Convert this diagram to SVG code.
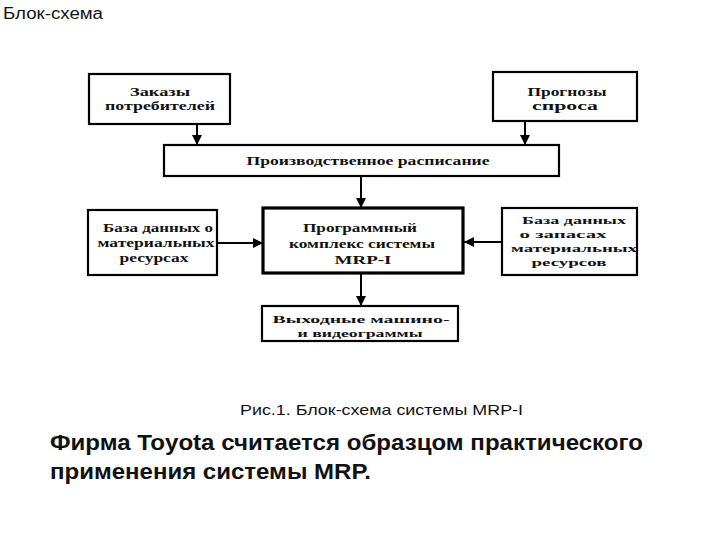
<svg xmlns="http://www.w3.org/2000/svg" width="720" height="540" viewBox="0 0 720 540">
<style>
.box{fill:#fff;stroke:#000;stroke-width:2.2}
.thick{stroke-width:3.2}
.nt{font-family:"Liberation Serif","DejaVu Serif",serif;font-weight:bold;font-size:13px;text-anchor:middle;fill:#111}
.sm{font-size:11px}
.cn{stroke:#000;stroke-width:2;fill:none}
</style>
<defs>
<marker id="ah" viewBox="0 0 10 10" refX="10" refY="5" markerWidth="5" markerHeight="5" orient="auto" markerUnits="strokeWidth">
<path d="M0,0 L10,5 L0,10 z" fill="#000"/>
</marker>
</defs>
<rect width="720" height="540" fill="#fff"/>
<text x="3" y="19" font-family="'Liberation Sans','DejaVu Sans',sans-serif" font-size="16" fill="#111" textLength="100" lengthAdjust="spacingAndGlyphs">Блок-схема</text>

<g id="connectors">
<line class="cn" x1="197" y1="125" x2="197" y2="145" marker-end="url(#ah)"/>
<line class="cn" x1="525" y1="122" x2="525" y2="145" marker-end="url(#ah)"/>
<line class="cn" x1="361" y1="177" x2="361" y2="208" marker-end="url(#ah)"/>
<line class="cn" x1="218" y1="243" x2="263" y2="243" marker-end="url(#ah)"/>
<line class="cn" x1="501" y1="242" x2="464" y2="242" marker-end="url(#ah)"/>
<line class="cn" x1="361" y1="274" x2="361" y2="306" marker-end="url(#ah)"/>
</g>

<g id="n-zakazy">
<rect class="box" x="89" y="74" width="141" height="50"/>
<text class="nt" x="160" y="96" textLength="60" lengthAdjust="spacingAndGlyphs">Заказы</text>
<text class="nt" x="160" y="110" textLength="110" lengthAdjust="spacingAndGlyphs">потребителей</text>
</g>
<g id="n-prognozy">
<rect class="box" x="493" y="72" width="144" height="49"/>
<text class="nt" x="567" y="96" textLength="79" lengthAdjust="spacingAndGlyphs">Прогнозы</text>
<text class="nt" x="565" y="110" textLength="66" lengthAdjust="spacingAndGlyphs">спроса</text>
</g>
<g id="n-raspisanie">
<rect class="box" x="164" y="145" width="395" height="31"/>
<text class="nt" x="368" y="165" textLength="243" lengthAdjust="spacingAndGlyphs">Производственное расписание</text>
</g>
<g id="n-bd-mat">
<rect class="box" x="88" y="210" width="129" height="65"/>
<text class="nt" x="158" y="232" textLength="110" lengthAdjust="spacingAndGlyphs">База данных о</text>
<text class="nt" x="156" y="247" textLength="117" lengthAdjust="spacingAndGlyphs">материальных</text>
<text class="nt" x="154" y="262" textLength="69" lengthAdjust="spacingAndGlyphs">ресурсах</text>
</g>
<g id="n-mrp">
<rect class="box thick" x="263" y="208" width="200" height="65"/>
<text class="nt" x="360" y="232" textLength="114" lengthAdjust="spacingAndGlyphs">Программный</text>
<text class="nt" x="362" y="248" textLength="146" lengthAdjust="spacingAndGlyphs">комплекс системы</text>
<text class="nt" x="363" y="264" textLength="57" lengthAdjust="spacingAndGlyphs">MRP-I</text>
</g>
<g id="n-bd-zap">
<rect class="box" x="502" y="208" width="135" height="67"/>
<text class="nt sm" x="574" y="224" textLength="104" lengthAdjust="spacingAndGlyphs">База данных</text>
<text class="nt sm" x="563" y="238" textLength="87" lengthAdjust="spacingAndGlyphs">о запасах</text>
<text class="nt sm" x="574" y="252" textLength="126" lengthAdjust="spacingAndGlyphs">материальных</text>
<text class="nt sm" x="569" y="266" textLength="75" lengthAdjust="spacingAndGlyphs">ресурсов</text>
</g>
<g id="n-vyhod">
<rect class="box" x="262" y="306" width="196" height="35"/>
<text class="nt sm" x="361" y="323" textLength="177" lengthAdjust="spacingAndGlyphs" font-size="12">Выходные машино-</text>
<text class="nt sm" x="360" y="337" textLength="125" lengthAdjust="spacingAndGlyphs" font-size="12">и видеограммы</text>
</g>

<text x="240" y="415" font-family="'Liberation Sans',Arial,sans-serif" font-size="15" fill="#111" textLength="283" lengthAdjust="spacingAndGlyphs">Рис.1. Блок-схема системы MRP-I</text>
<text x="50" y="450" font-family="'Liberation Sans',Arial,sans-serif" font-weight="bold" font-size="22" fill="#111" textLength="593" lengthAdjust="spacingAndGlyphs">Фирма Toyota считается образцом практического</text>
<text x="50" y="479" font-family="'Liberation Sans',Arial,sans-serif" font-weight="bold" font-size="22" fill="#111" textLength="321" lengthAdjust="spacingAndGlyphs">применения системы MRP.</text>
</svg>
